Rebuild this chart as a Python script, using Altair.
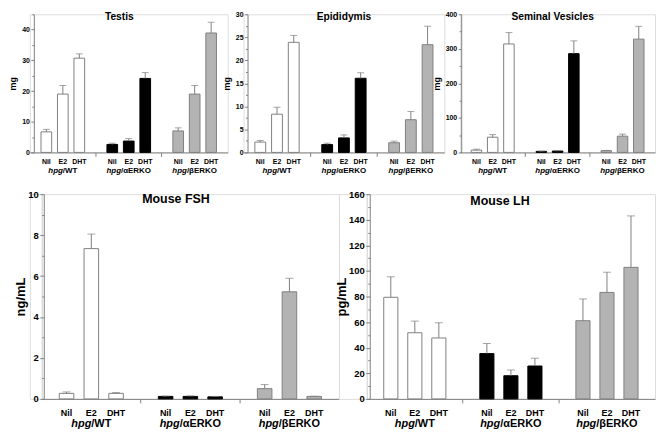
import altair as alt
import pandas as pd

groups = ["WT", "αERKO", "βERKO"]
suffixes = ["/WT", "/αERKO", "/βERKO"]
treatments = ["Nil", "E2", "DHT"]

testis_mean = [6.7, 19.0, 30.7, 2.6, 3.7, 24.1, 7.0, 19.0, 38.9]
testis_sem = [0.8, 2.8, 1.4, 0.4, 0.8, 1.9, 1.0, 2.8, 3.5]

epi_mean = [2.24, 8.3, 23.9, 1.7, 3.15, 16.1, 2.1, 7.1, 23.4]
epi_sem = [0.36, 1.5, 1.5, 0.3, 0.65, 1.2, 0.35, 1.8, 4.0]

sv_mean = [6.6, 44, 314, 3, 4, 286, 5, 47, 328]
sv_sem = [2.8, 7.5, 33, 1, 1, 37, 1, 6, 37]

fsh_mean = [0.27, 7.34, 0.27, 0.12, 0.12, 0.10, 0.50, 5.23, 0.12]
fsh_sem = [0.07, 0.71, 0.04, 0.02, 0.03, 0.02, 0.20, 0.66, 0.01]

lh_mean = [79.4, 51.7, 47.6, 35.4, 18.1, 25.7, 61.1, 83.2, 102.8]
lh_sem = [16.0, 9.1, 11.9, 7.9, 4.5, 6.1, 17.0, 15.8, 40.2]

FONT = "Liberation Sans"
GRAY = "#808080"
FILLS = ["#ffffff", "#000000", "#b3b3b3"]
STROKES = [GRAY, "#000000", GRAY]


def panel(title, means, sems, ymax, major, minor, ytitle, W, H, axis_off,
          title_x, title_y, fs_title, fs_ylab, fs_ytitle, fs_tick, fs_group,
          tick_dy, group_dy, pi, po, cap, major_tick, title_pad):
    df = pd.DataFrame({
        "group": [g for g in groups for _ in treatments],
        "treatment": treatments * 3,
        "mean": means,
        "sem": sems,
    })
    base = alt.Chart(df).transform_calculate(top="datum.mean + datum.sem")
    x = alt.X("group:N", sort=groups,
              scale=alt.Scale(paddingInner=0, paddingOuter=0),
              axis=alt.Axis(title=None, labels=False, values=groups[1:],
                            bandPosition=0, tickSize=4, domainColor=GRAY,
                            tickColor=GRAY, grid=False, domainWidth=1))
    xo = alt.XOffset("treatment:N", sort=treatments,
                     scale=alt.Scale(paddingInner=pi, paddingOuter=po,
                                     range=[0, W / 3]))
    n = int(round(ymax / minor))
    vals = [round(i * minor, 4) for i in range(n + 1)]
    yscale = alt.Scale(domain=[0, ymax], nice=False, zero=True)
    yaxis = alt.Axis(
        values=vals,
        labelExpr=f"(datum.value % {major}) > 0.001 ? '' : datum.label",
        tickSize={"condition": {"test": f"(datum.value % {major}) > 0.001", "value": 2},
                  "value": major_tick},
        title=ytitle, titleFont=FONT, titleFontSize=fs_ytitle, titleFontWeight="bold",
        titleColor="black", titlePadding=title_pad,
        labelFont=FONT, labelFontSize=fs_ylab, labelFontWeight="bold",
        labelColor="black", labelPadding=1.5,
        domainColor=GRAY, tickColor=GRAY, grid=False, offset=axis_off)
    bars = base.mark_bar(strokeWidth=1).encode(
        x=x, xOffset=xo,
        y=alt.Y("mean:Q", scale=yscale, axis=yaxis),
        fill=alt.Fill("group:N", scale=alt.Scale(domain=groups, range=FILLS), legend=None),
        stroke=alt.Stroke("group:N", scale=alt.Scale(domain=groups, range=STROKES), legend=None),
    )
    rule = base.mark_rule(color=GRAY, strokeWidth=1).encode(
        x=x, xOffset=xo,
        y=alt.Y("mean:Q", scale=yscale, axis=yaxis), y2="top:Q")
    caps = base.mark_tick(color=GRAY, thickness=1, size=cap).encode(
        x=x, xOffset=xo, y=alt.Y("top:Q", scale=yscale, axis=yaxis))
    ticklab = base.mark_text(font=FONT, fontSize=fs_tick, fontWeight="bold",
                             baseline="alphabetic", color="black").encode(
        x=x, xOffset=xo, y=alt.value(H + tick_dy), text="treatment:N")
    layers = [bars, rule, caps, ticklab]
    gdf = pd.DataFrame({"group": groups, "prefix": ["hpg"] * 3, "suffix": suffixes})
    for g in groups:
        shift = 0 if g == "WT" else -0.977 * fs_group
        sub = alt.Chart(gdf).transform_filter(alt.datum.group == g)
        layers.append(sub.mark_text(font=FONT, fontSize=fs_group, fontWeight="bold",
                                    fontStyle="italic", align="right", dx=shift,
                                    baseline="alphabetic", color="black").encode(
            x=x, y=alt.value(H + group_dy), text="prefix:N"))
        layers.append(sub.mark_text(font=FONT, fontSize=fs_group, fontWeight="bold",
                                    align="left", dx=shift,
                                    baseline="alphabetic", color="black").encode(
            x=x, y=alt.value(H + group_dy), text="suffix:N"))
    tdf = pd.DataFrame({"t": [title]})
    layers.append(alt.Chart(tdf).mark_text(font=FONT, fontSize=fs_title, fontWeight="bold",
                                           baseline="alphabetic", align="center",
                                           color="black").encode(
        text="t:N", x=alt.value(title_x), y=alt.value(title_y)))
    return alt.layer(*layers).properties(width=W, height=H)


TH = 139
BH = 206
top_kw = dict(H=TH, fs_title=10.3, fs_ylab=7, fs_ytitle=9, fs_tick=7, fs_group=8,
              tick_dy=11.3, group_dy=21, pi=0.353, po=0.676, cap=7, major_tick=3,
              title_pad=4, title_y=5.3)
bot_kw = dict(H=BH, fs_title=12.5, fs_ylab=9.5, fs_ytitle=13, fs_tick=9, fs_group=11,
              tick_dy=17.5, group_dy=28.5, pi=0.412, po=0.706, cap=8, major_tick=4,
              title_pad=0)

testis = panel("Testis", testis_mean, testis_sem, 45, 10, 5, "mg", W=199, axis_off=-4,
               title_x=90, **top_kw)
epi = panel("Epididymis", epi_mean, epi_sem, 30, 5, 2.5, "mg", W=202, axis_off=-4,
            title_x=101, **top_kw)
sv = panel("Seminal Vesicles", sv_mean, sv_sem, 400, 100, 50, "mg", W=196, axis_off=-1,
           title_x=93, **top_kw)
fsh = panel("Mouse FSH", fsh_mean, fsh_sem, 10, 2, 1, "ng/mL", W=299, axis_off=-2,
            title_x=135, title_y=8.8, **bot_kw)
lh = panel("Mouse LH", lh_mean, lh_sem, 160, 20, 10, "pg/mL", W=290, axis_off=-3,
           title_x=134, title_y=11, **bot_kw)


def spacer(w):
    return alt.Chart(pd.DataFrame({"a": [0]})).mark_point(opacity=0).encode(
        x=alt.value(0), y=alt.value(0)).properties(width=w, height=BH)


top = alt.hconcat(testis, epi, sv, spacing=16, bounds="flush").resolve_scale(
    xOffset="independent", x="independent", y="independent")
bottom = alt.hconcat(spacer(12), fsh, spacer(28), lh, spacing=0, bounds="flush").resolve_scale(
    xOffset="independent", x="independent", y="independent")

chart = alt.vconcat(top, bottom, spacing=12).resolve_scale(
    xOffset="independent", x="independent", y="independent").properties(
    padding=0
).configure_view(stroke=None).configure(font=FONT)

chart.save("out.html", embed_options={"renderer": "svg", "actions": False})
